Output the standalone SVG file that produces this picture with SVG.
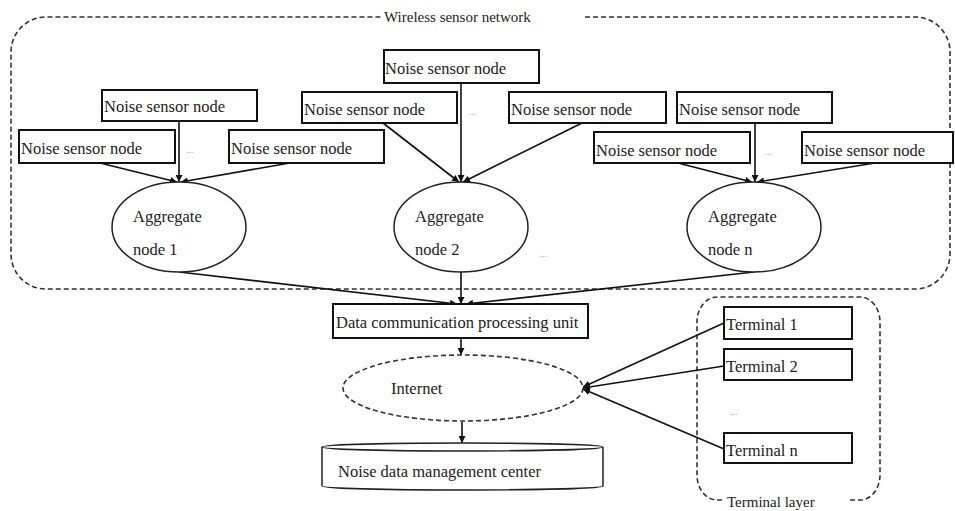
<svg xmlns="http://www.w3.org/2000/svg" width="955" height="511" viewBox="0 0 955 511" font-family="'Liberation Serif', 'DejaVu Serif', serif">
<defs>
<marker id="ah" viewBox="0 0 10 10" refX="10" refY="5" markerWidth="7" markerHeight="7" markerUnits="userSpaceOnUse" orient="auto">
<path d="M0,0 L10,5 L0,10 z" fill="#111"/>
</marker>
</defs>
<style>
text{font-family:'Liberation Serif','DejaVu Serif',serif;font-size:16.5px;fill:#222}
.box{fill:#fff;stroke:#111;stroke-width:2}
.ell{fill:#fff;stroke:#222;stroke-width:1.5}
.dash{fill:none;stroke:#333;stroke-width:1.6;stroke-dasharray:5,3}
.conn line{stroke:#111;stroke-width:1.6;marker-end:url(#ah)}
.dots{fill:#aaa;font-size:10px}
.lbl{font-size:15px}
</style>
<rect width="955" height="511" fill="#fff"/>

<g id="wsn">
<path class="dash" d="M585,17 H915 A35,35 0 0 1 950,52 V254 A35,35 0 0 1 915,289 H46 A35,35 0 0 1 11,254 V52 A35,35 0 0 1 46,17 H383"/>
<text class="lbl" x="384" y="22">Wireless sensor network</text>
</g>

<g id="terminal-layer">
<path class="dash" d="M850,500 H860 A20,25 0 0 0 880,475 V322 A20,25 0 0 0 860,297 H717 A20,25 0 0 0 697,322 V475 A20,25 0 0 0 717,500 H722"/>
<text class="lbl" x="727" y="507">Terminal layer</text>
</g>

<g class="conn">
<line x1="100" y1="163" x2="177" y2="182"/>
<line x1="179" y1="121" x2="179" y2="182"/>
<line x1="290" y1="163" x2="181" y2="182"/>
<line x1="383" y1="123" x2="459" y2="182"/>
<line x1="461" y1="83" x2="461" y2="182"/>
<line x1="582" y1="123" x2="463" y2="182"/>
<line x1="678" y1="163" x2="752" y2="182"/>
<line x1="755" y1="123" x2="755" y2="182"/>
<line x1="875" y1="163" x2="757" y2="182"/>
<line x1="179" y1="272" x2="457" y2="304"/>
<line x1="461" y1="272" x2="461" y2="304"/>
<line x1="754" y1="272" x2="466" y2="304"/>
<line x1="461" y1="338" x2="461" y2="355"/>
<line x1="462" y1="422" x2="462" y2="443"/>
<line x1="724" y1="323" x2="583" y2="387"/>
<line x1="724" y1="366" x2="583" y2="388"/>
<line x1="724" y1="449" x2="583" y2="389"/>
</g>

<g id="sensor1"><rect class="box" x="102" y="90" width="155" height="31"/><text x="104" y="112">Noise sensor node</text></g>
<g id="sensor2"><rect class="box" x="19" y="130" width="156" height="33"/><text x="21" y="154">Noise sensor node</text></g>
<g id="sensor3"><rect class="box" x="229" y="130" width="155" height="33"/><text x="231" y="154">Noise sensor node</text></g>
<g id="sensor4"><rect class="box" x="384" y="50" width="155" height="33"/><text x="385" y="74">Noise sensor node</text></g>
<g id="sensor5"><rect class="box" x="302" y="92" width="155" height="31"/><text x="304" y="115">Noise sensor node</text></g>
<g id="sensor6"><rect class="box" x="509" y="92" width="157" height="31"/><text x="511" y="115">Noise sensor node</text></g>
<g id="sensor7"><rect class="box" x="677" y="92" width="155" height="31"/><text x="679" y="115">Noise sensor node</text></g>
<g id="sensor8"><rect class="box" x="594" y="132" width="156" height="31"/><text x="596" y="156">Noise sensor node</text></g>
<g id="sensor9"><rect class="box" x="802" y="132" width="151" height="31"/><text x="804" y="156">Noise sensor node</text></g>

<g id="agg1"><ellipse class="ell" cx="179" cy="227" rx="67" ry="45"/><text x="133" y="222">Aggregate</text><text x="133" y="255">node 1</text></g>
<g id="agg2"><ellipse class="ell" cx="461" cy="227" rx="67" ry="45"/><text x="415" y="222">Aggregate</text><text x="415" y="255">node 2</text></g>
<g id="aggn"><ellipse class="ell" cx="754" cy="227" rx="67" ry="45"/><text x="708" y="222">Aggregate</text><text x="708" y="255">node n</text></g>

<g id="dcpu"><rect class="box" x="333" y="304" width="255" height="34"/><text x="336" y="328">Data communication processing unit</text></g>

<g id="internet"><ellipse class="dash" cx="463" cy="388" rx="120" ry="33"/><text x="391" y="394">Internet</text></g>

<g id="datacenter">
<path d="M322,447 A140,4 0 0 1 603,447 V486 A140,4 0 0 1 322,486 Z" fill="#fff" stroke="#222" stroke-width="1.5"/>
<path d="M322,447 A140,4 0 0 0 603,447" fill="none" stroke="#222" stroke-width="1.5"/>
<text x="338" y="477">Noise data management center</text>
</g>

<g id="terminal1"><rect class="box" x="724" y="307" width="128" height="32"/><text x="726" y="330">Terminal 1</text></g>
<g id="terminal2"><rect class="box" x="724" y="349" width="128" height="31"/><text x="726" y="372">Terminal 2</text></g>
<g id="terminaln"><rect class="box" x="724" y="433" width="128" height="30"/><text x="726" y="456">Terminal n</text></g>

<g id="ellipses">
<text class="dots" x="186" y="153">...</text>
<text class="dots" x="469" y="115">...</text>
<text class="dots" x="540" y="257">...</text>
<text class="dots" x="765" y="155">...</text>
<text class="dots" x="730" y="415">...</text>
</g>
</svg>
